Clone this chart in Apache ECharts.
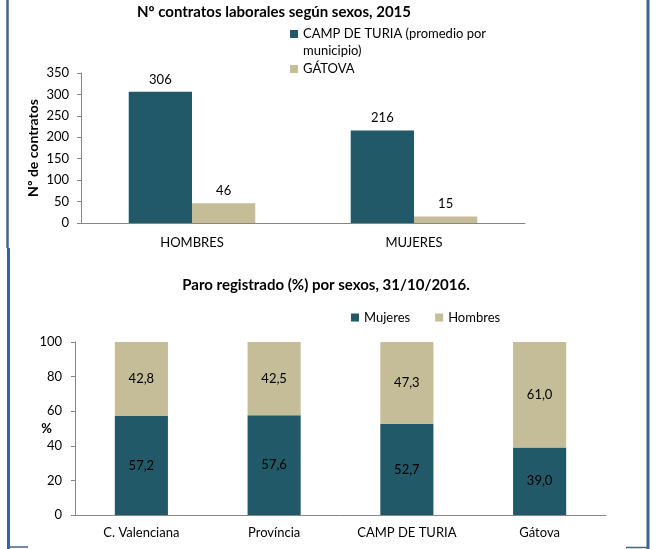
<!DOCTYPE html>
<html><head><meta charset="utf-8">
<script src="https://cdn.jsdelivr.net/npm/echarts@6/dist/echarts.min.js"></script>
<style>html,body{margin:0;padding:0;background:#fff}#c{width:670px;height:549px}</style>
</head><body><div id="c"></div>
<script>
// ---- Chart 1 data ----
const contratosCategories = ['HOMBRES', 'MUJERES'];
const campTuriaName = 'CAMP DE TURIA (promedio por municipio)';
const gatovaName = 'GÁTOVA';
const campTuriaContratos = [306, 216];
const gatovaContratos = [46, 15];

// ---- Chart 2 data ----
const paroCategories = ['C. Valenciana', 'Província', 'CAMP DE TURIA', 'Gátova'];
const paroMujeres = [57.2, 57.6, 52.7, 39.0];
const paroHombres = [42.8, 42.5, 47.3, 61.0];

const DARK = '#215968';
const TAN = '#c4bd97';
const AXIS = '#868686';
const FONT = 'Lato';
const BORDER = '#3f6398';

const chart = echarts.init(document.getElementById('c'));
const comma = v => v.toFixed(1).replace('.', ',');
const lbl = { color: '#000', fontSize: 13, fontFamily: FONT };

chart.setOption({
  animation: false,
  textStyle: { fontFamily: FONT, color: '#000' },
  title: [
    { text: 'Nº contratos laborales según sexos, 2015', left: 274, textAlign: 'center', top: 5, padding: 0,
      textStyle: { fontFamily: FONT, fontSize: 15, fontWeight: 'bold', color: '#000' } },
    { text: 'Paro registrado (%) por sexos, 31/10/2016.', left: 326, textAlign: 'center', top: 278, padding: 0,
      textStyle: { fontFamily: FONT, fontSize: 15, fontWeight: 'bold', color: '#000' } }
  ],
  legend: [
    { orient: 'vertical', left: 290, top: 8.5, padding: 0, itemGap: 1,
      itemWidth: 8, itemHeight: 8, icon: 'rect',
      data: [campTuriaName, gatovaName],
      formatter: n => n === campTuriaName ? '\nCAMP DE TURIA (promedio por\nmunicipio)' : n,
      textStyle: { fontFamily: FONT, fontSize: 13, lineHeight: 17, color: '#000' } },
    { orient: 'horizontal', left: 351, top: 311, padding: 0, itemGap: 25,
      itemWidth: 8, itemHeight: 8, icon: 'rect',
      data: ['Mujeres', 'Hombres'],
      textStyle: { fontFamily: FONT, fontSize: 13, color: '#000' } }
  ],
  grid: [
    { left: 81, top: 73, width: 444, height: 150 },
    { left: 75, top: 342, width: 531, height: 173 }
  ],
  xAxis: [
    { type: 'category', gridIndex: 0, data: contratosCategories,
      axisLine: { lineStyle: { color: AXIS } },
      axisTick: { lineStyle: { color: AXIS }, length: 4 },
      axisLabel: Object.assign({ margin: 13 }, lbl) },
    { type: 'category', gridIndex: 1, data: paroCategories,
      axisLine: { lineStyle: { color: AXIS } },
      axisTick: { lineStyle: { color: AXIS }, length: 4 },
      axisLabel: Object.assign({ margin: 11 }, lbl) }
  ],
  yAxis: [
    { type: 'value', gridIndex: 0, min: 0, max: 350, interval: 50,
      name: 'Nº de contratos', nameLocation: 'middle', nameGap: 41, nameRotate: 90, nameMoveOverlap: false,
      nameTextStyle: { fontFamily: FONT, fontSize: 14, fontWeight: 'bold', color: '#000' },
      axisLine: { show: true, lineStyle: { color: AXIS } },
      axisTick: { show: true, lineStyle: { color: AXIS }, length: 4 },
      splitLine: { show: false },
      axisLabel: Object.assign({ margin: 12 }, lbl) },
    { type: 'value', gridIndex: 1, min: 0, max: 100, interval: 20,
      name: '%', nameLocation: 'middle', nameGap: 23, nameRotate: 0, nameMoveOverlap: false,
      nameTextStyle: { fontFamily: FONT, fontSize: 13, fontWeight: 'bold', color: '#000' },
      axisLine: { show: true, lineStyle: { color: AXIS } },
      axisTick: { show: true, lineStyle: { color: AXIS }, length: 4 },
      splitLine: { show: false },
      axisLabel: Object.assign({ margin: 13 }, lbl) }
  ],
  series: [
    { name: campTuriaName, type: 'bar', xAxisIndex: 0, yAxisIndex: 0, data: campTuriaContratos,
      itemStyle: { color: DARK }, barGap: '0%', barCategoryGap: '43%',
      label: Object.assign({ show: true, position: 'top', distance: 6 }, lbl) },
    { name: gatovaName, type: 'bar', xAxisIndex: 0, yAxisIndex: 0, data: gatovaContratos,
      itemStyle: { color: TAN }, barGap: '0%', barCategoryGap: '43%',
      label: Object.assign({ show: true, position: 'top', distance: 6 }, lbl) },
    { name: 'Mujeres', type: 'bar', stack: 'paro', xAxisIndex: 1, yAxisIndex: 1, data: paroMujeres,
      itemStyle: { color: DARK }, barCategoryGap: '60%',
      label: Object.assign({ show: true, position: 'inside', formatter: p => comma(p.value) }, lbl) },
    { name: 'Hombres', type: 'bar', stack: 'paro', xAxisIndex: 1, yAxisIndex: 1, data: paroHombres,
      itemStyle: { color: TAN }, barCategoryGap: '60%',
      label: Object.assign({ show: true, position: 'inside', formatter: p => comma(p.value) }, lbl) }
  ],
  graphic: [
    { type: 'line', shape: { x1: 7.5, y1: 0, x2: 7.5, y2: 248 }, style: { stroke: BORDER, lineWidth: 2.5 } },
    { type: 'line', shape: { x1: 8.5, y1: 248, x2: 8.5, y2: 549 }, style: { stroke: BORDER, lineWidth: 3 } },
    { type: 'line', shape: { x1: 648, y1: 0, x2: 648, y2: 549 }, style: { stroke: BORDER, lineWidth: 3 } },
    { type: 'line', shape: { x1: 8, y1: 547, x2: 28, y2: 547 }, style: { stroke: BORDER, lineWidth: 1.5 } },
    { type: 'line', shape: { x1: 626, y1: 547.5, x2: 648, y2: 547.5 }, style: { stroke: BORDER, lineWidth: 1.5 } }
  ]
});
</script>
</body></html>
